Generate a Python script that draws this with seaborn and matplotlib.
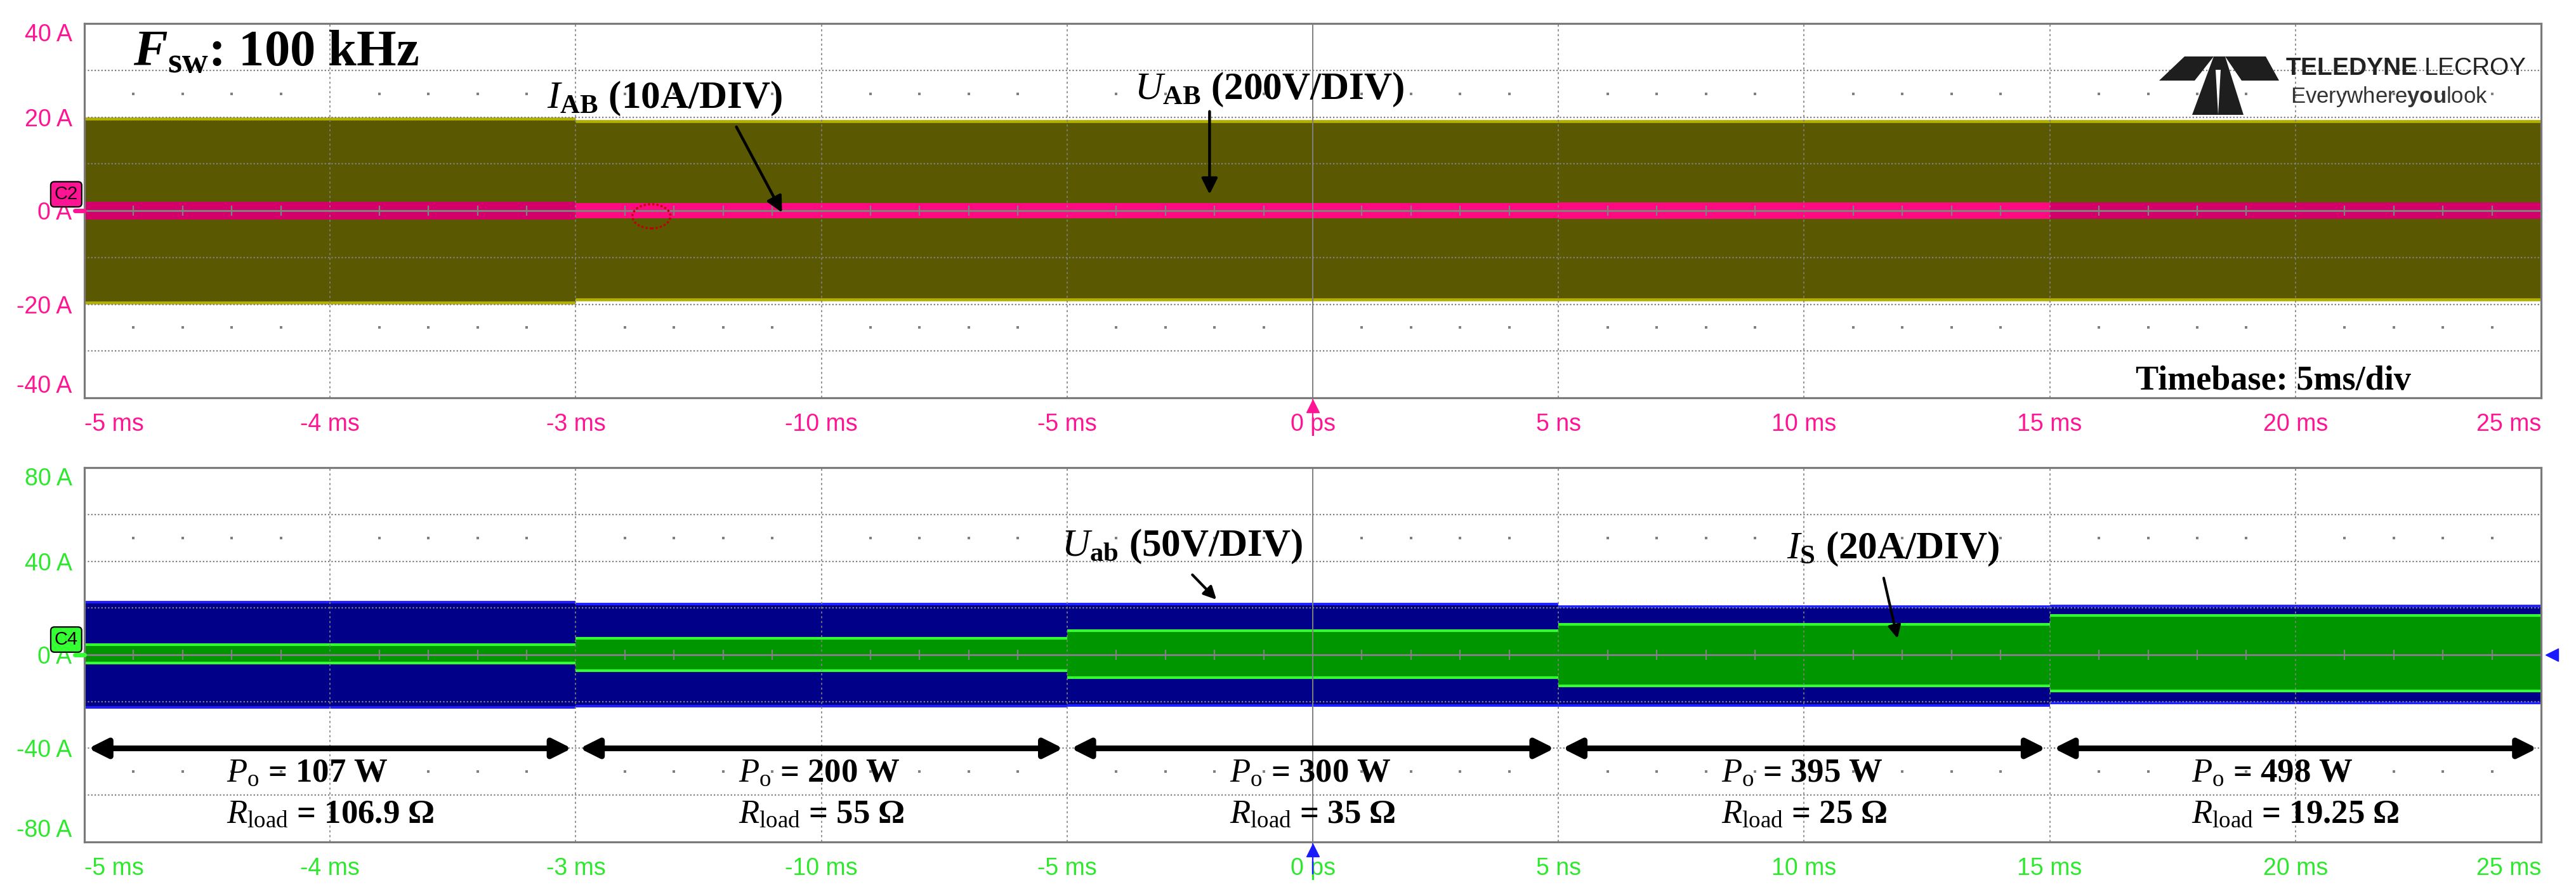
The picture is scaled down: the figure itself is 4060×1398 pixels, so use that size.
import matplotlib

matplotlib.use("Agg")
import matplotlib.pyplot as plt
import matplotlib.transforms as mtransforms
import numpy as np
import seaborn as sns
from matplotlib.patches import Ellipse, Polygon

# ---- data (5 ms/div, 10 divisions) ----
time_ticks = [0, 5, 10, 15, 20, 25, 30, 35, 40, 45, 50]
x_tick_labels = ["-5 ms", "-4 ms", "-3 ms", "-10 ms", "-5 ms", "0 ps",
                 "5 ns", "10 ms", "15 ms", "20 ms", "25 ms"]
seg_edges = [0, 10, 20, 30, 40, 50]

top_ylabels = ["40 A", "20 A", "0 A", "-20 A", "-40 A"]
bot_ylabels = ["80 A", "40 A", "0 A", "-40 A", "-80 A"]

# upper panel: U_AB envelope (yellow) and I_AB envelope (magenta), per load step
uab_hi = [19.7, 19.1, 19.1, 19.1, 19.1]
uab_lo = [-19.6, -19.0, -19.0, -19.0, -19.0]
iab_hi = [1.9, 1.6, 1.6, 1.7, 1.8]
iab_lo = [-1.9, -1.6, -1.6, -1.7, -1.8]

# lower panel: U_ab envelope (blue) and I_s envelope (green)
uab_s_hi = [22.6, 21.8, 21.6, 20.6, 21.0]
uab_s_lo = [-22.6, -21.9, -21.7, -21.7, -20.5]
is_hi = [4.3, 7.0, 10.3, 13.0, 16.7]
is_lo = [-3.6, -6.8, -9.7, -13.2, -15.4]

power_w = ["107", "200", "300", "395", "498"]
r_load = ["106.9", "55", "35", "25", "19.25"]

sns.set_theme(style="white")
plt.rcParams["font.family"] = ["Liberation Sans", "DejaVu Sans"]
plt.rcParams["mathtext.fontset"] = "custom"
plt.rcParams["mathtext.rm"] = "Liberation Serif"
plt.rcParams["mathtext.it"] = "Liberation Serif:italic"
plt.rcParams["mathtext.bf"] = "Liberation Serif:bold"
plt.rcParams["mathtext.bfit"] = "Liberation Serif:italic:bold"
plt.rcParams["mathtext.tt"] = "Liberation Sans:bold"

GRID = "#808080"
SERIF = ["Liberation Serif", "DejaVu Serif"]

fig = plt.figure(figsize=(40.6, 13.98), dpi=100)
fig.patch.set_facecolor("white")
ax_top = fig.add_axes([0.03276, 0.5515, 0.9537, 0.4220])
ax_bot = fig.add_axes([0.03276, 0.0508, 0.9537, 0.4220])


def style_panel(ax, ymax, ylabels, label_color, dot_row):
    div_y = ymax / 4
    ax.set_xlim(time_ticks[0], time_ticks[-1])
    ax.set_ylim(-ymax, ymax)
    ax.set_xticks(time_ticks)
    ax.set_xticklabels(x_tick_labels)
    ax.set_yticks(np.linspace(ymax, -ymax, 5))
    ax.set_yticklabels(ylabels)
    ax.tick_params(axis="both", length=0, labelsize=27, labelcolor=label_color)
    ax.tick_params(axis="x", pad=17)
    ax.tick_params(axis="y", pad=14)
    xl = ax.get_xticklabels()
    xl[0].set_ha("left")
    xl[-1].set_ha("right")
    yl = ax.get_yticklabels()
    yl[0].set_va("top")
    yl[-1].set_va("bottom")
    for sp in ax.spines.values():
        sp.set_color("#7a7a7a")
        sp.set_linewidth(2.3)
        sp.set_zorder(6)
    ax.set_facecolor("white")

    # scope graticule
    for x in time_ticks[1:-1]:
        if x == 25:
            ax.axvline(x, color=GRID, lw=1.4, zorder=4)
        else:
            ax.axvline(x, color=GRID, lw=1.2, ls=(0, (2, 2.5)), zorder=4)
    for k in range(1, 8):
        y = ymax - k * div_y
        if k == 4:
            ax.axhline(0, color=GRID, lw=2.2, zorder=4)
        else:
            ax.axhline(y, color=GRID, lw=1.6, ls=(0, (1, 1.4)), zorder=4)
    sub = np.arange(1, 50)
    sub = sub[sub % 5 != 0]
    ax.plot(sub, np.zeros_like(sub), ls="none", marker="|", ms=12,
            mew=1.6, color=GRID, zorder=4)
    for yy in (dot_row, -dot_row):
        ax.plot(sub, np.full(len(sub), yy), ls="none", marker="s", ms=2.4,
                color=GRID, mew=0, zorder=4)


style_panel(ax_top, 40, top_ylabels, "#ff1493", 25)
style_panel(ax_bot, 80, bot_ylabels, "#2ee82e", 50)

# ---- upper panel traces ----
mag_cols = ["#d4006a", "#ff0a80", "#ff0a80", "#ff0a80", "#d4006a"]
for i in range(5):
    xs = [seg_edges[i], seg_edges[i + 1]]
    ax_top.fill_between(xs, uab_lo[i], uab_hi[i], color="#5a5800", lw=0, zorder=1)
    ax_top.fill_between(xs, iab_lo[i], iab_hi[i], color=mag_cols[i], lw=0, zorder=2)
ax_top.hlines(uab_hi, seg_edges[:-1], seg_edges[1:], color="#b4b000", lw=3.4, zorder=2)
ax_top.hlines(uab_lo, seg_edges[:-1], seg_edges[1:], color="#b4b000", lw=3.4, zorder=2)

# ---- lower panel traces ----
for i in range(5):
    xs = [seg_edges[i], seg_edges[i + 1]]
    ax_bot.fill_between(xs, uab_s_lo[i], uab_s_hi[i], color="#000088", lw=0, zorder=1)
    ax_bot.fill_between(xs, is_lo[i], is_hi[i], color="#009600", lw=0, zorder=2)
ax_bot.hlines(uab_s_hi, seg_edges[:-1], seg_edges[1:], color="#2020ff", lw=2.8, zorder=2)
ax_bot.hlines(uab_s_lo, seg_edges[:-1], seg_edges[1:], color="#2020ff", lw=2.8, zorder=2)
ax_bot.hlines(is_hi, seg_edges[:-1], seg_edges[1:], color="#33ff33", lw=3.0, zorder=2.5)
ax_bot.hlines(is_lo, seg_edges[:-1], seg_edges[1:], color="#33ff33", lw=3.0, zorder=2.5)

# ---- channel / trigger markers ----
for ax, name, col, yy in ((ax_top, "C2", "#ff1493", 3.5), (ax_bot, "C4", "#33ff33", 6.5)):
    tr = mtransforms.blended_transform_factory(ax.transAxes, ax.transData)
    ax.text(-0.0074, yy, name, transform=tr, ha="center", va="center",
            fontsize=21, color="#1a0010", clip_on=False, zorder=7,
            bbox=dict(boxstyle="round,pad=0.2", fc=col, ec="black", lw=1.6))
    ax.plot([-0.004, 0.0], [0, 0], transform=tr, color=col, lw=5, clip_on=False, zorder=7)

for ax, col in ((ax_top, "#ff1493"), (ax_bot, "#1a1aff")):
    tr = mtransforms.blended_transform_factory(ax.transData, ax.transAxes)
    ax.plot([25, 25], [-0.005, -0.085], transform=tr, color=col, lw=1.6,
            clip_on=False, zorder=7)
    ax.plot([25], [-0.022], transform=tr, marker="^", ms=14, color=col,
            clip_on=False, zorder=7)
tr = mtransforms.blended_transform_factory(ax_bot.transAxes, ax_bot.transData)
ax_bot.plot([1.0045], [0], transform=tr, marker="<", ms=15, color="#1a1aff",
            clip_on=False, zorder=7)

# ---- annotations, upper panel ----
txt = dict(family=SERIF, weight="bold", color="black", zorder=8)
arrow = dict(arrowstyle="-|>", color="black", lw=3.2, mutation_scale=38,
             shrinkA=0, shrinkB=0)

ax_top.text(1.0, 31.0, r"$\mathbfit{F}_{\mathbf{sw}}$: 100 kHz", fontsize=58,
            ha="left", va="baseline", **txt)
ax_top.text(9.41, 22.0, r"$\mathit{I}_{\mathbf{AB}}$ (10A/DIV)", fontsize=44,
            ha="left", va="baseline", **txt)
ax_top.text(21.37, 23.9, r"$\mathit{U}_{\mathbf{AB}}$ (200V/DIV)", fontsize=44,
            ha="left", va="baseline", **txt)
ax_top.annotate("", xy=(14.2, -0.4), xytext=(13.27, 17.9), arrowprops=arrow, zorder=8)
ax_top.annotate("", xy=(22.9, 3.5), xytext=(22.9, 21.2), arrowprops=arrow, zorder=8)
ax_top.add_patch(Ellipse((11.54, -1.2), 0.775, 5.15, fill=False, ec="#c00000",
                         ls=(0, (1, 1)), lw=2.4, zorder=8))
ax_top.text(41.75, -38.2, "Timebase: 5ms/div", fontsize=39, ha="left",
            va="baseline", **txt)

# Teledyne LeCroy badge
ax_top.text(44.8, 30.4, r"$\mathtt{TELEDYNE}$ LECROY", fontsize=28, ha="left",
            va="center", color="#222222", zorder=8)
ax_top.text(44.9, 24.4, r"Everywhere$\mathtt{you}$look", fontsize=25,
            ha="left", va="center", color="#333333", zorder=8)
px = mtransforms.Affine2D().scale(1 / 4060, -1 / 1398).translate(0, 1) + fig.transFigure
logo = [
    [(3403, 127), (3443, 89), (3489, 89), (3459, 127)],
    [(3507, 89), (3571, 89), (3592, 127), (3533, 127)],
    [(3489, 89), (3507, 89), (3536, 181), (3455, 181)],
]
for pts in logo:
    fig.add_artist(Polygon(pts, closed=True, transform=px, fc="#1e1e1e", ec="none"))
fig.add_artist(Polygon([(3492, 110), (3500, 110), (3496, 181)], closed=True,
                       transform=px, fc="white", ec="none"))

# ---- annotations, lower panel ----
ax_bot.text(19.89, 42.3, r"$\mathit{U}_{\mathbf{ab}}$ (50V/DIV)", fontsize=44,
            ha="left", va="baseline", **txt)
ax_bot.text(34.64, 41.2, r"$\mathit{I}_{\mathbf{S}}$ (20A/DIV)", fontsize=44,
            ha="left", va="baseline", **txt)
short = dict(arrow, lw=3.0, mutation_scale=30)
ax_bot.annotate("", xy=(23.04, 23.6), xytext=(22.55, 34.2), arrowprops=short, zorder=8)
ax_bot.annotate("", xy=(36.9, 7.0), xytext=(36.62, 32.8), arrowprops=short, zorder=8)

dbl = dict(arrowstyle="<|-|>", color="black", lw=6.5, mutation_scale=45,
           shrinkA=0, shrinkB=0)
for i in range(5):
    x0, x1 = seg_edges[i], seg_edges[i + 1]
    ax_bot.annotate("", xy=(x1 - 0.08, -40), xytext=(x0 + 0.08, -40),
                    arrowprops=dbl, zorder=8)
    label = (rf"$\mathit{{P}}_{{\mathrm{{o}}}}$ = {power_w[i]} W" + "\n"
             + rf"$\mathit{{R}}_{{\mathrm{{load}}}}$ = {r_load[i]} Ω")
    ax_bot.text((x0 + x1) / 2, -59.5, label, fontsize=38, ha="center",
                va="center", multialignment="left", linespacing=1.45, **txt)

fig.savefig("out.png", dpi=100, facecolor="white")
